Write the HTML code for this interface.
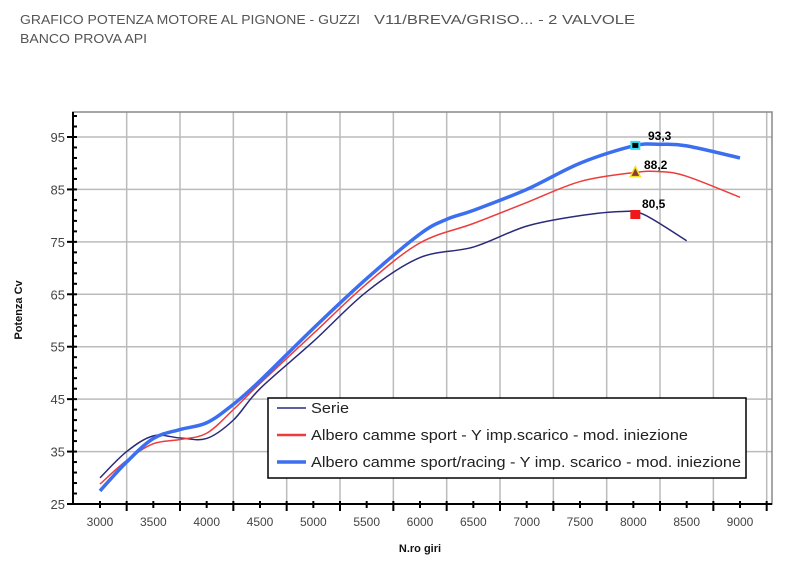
<!DOCTYPE html>
<html><head><meta charset="utf-8"><style>
body{margin:0;background:#fff;width:800px;height:566px;overflow:hidden;font-family:"Liberation Sans",sans-serif}
</style></head><body>
<svg id="s" width="800" height="566" xmlns="http://www.w3.org/2000/svg" font-family="Liberation Sans, sans-serif">
<text x="20" y="24" font-size="13" fill="#555" textLength="340" lengthAdjust="spacingAndGlyphs">GRAFICO POTENZA MOTORE AL PIGNONE - GUZZI</text>
<text x="374" y="24" font-size="13" fill="#555" textLength="261" lengthAdjust="spacingAndGlyphs">V11/BREVA/GRISO... - 2 VALVOLE</text>
<text x="20" y="43" font-size="13" fill="#555" textLength="127" lengthAdjust="spacingAndGlyphs">BANCO PROVA API</text>
<g id="g"></g>
<text transform="translate(22,310) rotate(-90)" font-size="11" font-weight="bold" text-anchor="middle" fill="#111">Potenza Cv</text>
<text x="420" y="552" font-size="11" font-weight="bold" text-anchor="middle" fill="#111">N.ro giri</text>
</svg>
<script>
var X=r=>100+(r-3000)*0.10667, Y=v=>504-(v-25)*5.243;
var h='';
var L=73,R=772,T=112,B=504;
for(var r=3250;r<9300;r+=500)h+=`<line x1="${X(r)}" y1="${T}" x2="${X(r)}" y2="${B}" stroke="#bbb" stroke-width="1.5"/>`;
for(var v=35;v<=95;v+=10)h+=`<line x1="${L}" y1="${Y(v)}" x2="${R}" y2="${Y(v)}" stroke="#bbb" stroke-width="1.5"/>`;
h+=`<rect x="${L}" y="${T}" width="${R-L}" height="${B-T}" fill="none" stroke="#888" stroke-width="1.5"/>`;
h+=`<line x1="${L}" y1="${T}" x2="${L}" y2="${B}" stroke="#000" stroke-width="2"/><line x1="${L}" y1="${B}" x2="${R}" y2="${B}" stroke="#000" stroke-width="2"/>`;
for(var v=25;v<=99;v+=2){var big=(v-25)%10==0;h+=`<line x1="${big?L-6:L}" y1="${Y(v)}" x2="${L+4}" y2="${Y(v)}" stroke="#000" stroke-width="2"/>`;}
for(var v=25;v<=95;v+=10)h+=`<text x="${L-8}" y="${Y(v)+5}" font-size="13" fill="#444" text-anchor="end">${v}</text>`;
for(var r=3000;r<=9250;r+=250){var big=(r-3250)%500==0;h+=`<line x1="${X(r)}" y1="${B-3}" x2="${X(r)}" y2="${B+(big?7:4)}" stroke="#000" stroke-width="2"/>`;}
for(var r=3000;r<=9000;r+=500)h+=`<text x="${X(r)}" y="${B+22}" font-size="12" fill="#444" text-anchor="middle">${r}</text>`;
function path(p){var q=p.map(a=>[X(a[0]),Y(a[1])]);var d='M'+q[0];for(var i=0;i<q.length-1;i++){var p0=q[i-1]||q[i],p1=q[i],p2=q[i+1],p3=q[i+2]||p2;d+=` C${p1[0]+(p2[0]-p0[0])/6},${p1[1]+(p2[1]-p0[1])/6} ${p2[0]-(p3[0]-p1[0])/6},${p2[1]-(p3[1]-p1[1])/6} ${p2[0]},${p2[1]}`;}return d;}
var nav=[[3000,30],[3250,35],[3500,38],[3750,37.6],[4000,37.5],[4250,41],[4500,47],[5000,56],[5500,65.5],[6000,72],[6500,74],[7000,78],[7500,80],[7900,80.8],[8100,80.2],[8500,75.2]];
var red=[[3000,28.8],[3250,33.3],[3500,36.5],[3750,37.3],[4000,38.5],[4250,43],[4500,48],[5000,57.5],[5500,67],[6000,74.8],[6500,78.5],[7000,82.5],[7500,86.5],[8000,88.2],[8250,88.4],[8500,87.5],[9000,83.5]];
var blu=[[3000,27.5],[3250,33],[3500,37.5],[3750,39.2],[4000,40.5],[4250,44],[4500,48.5],[5000,58.5],[5500,68],[6000,76.5],[6250,79.3],[6500,81],[7000,85],[7500,90],[8000,93.3],[8250,93.6],[8500,93.3],[9000,91]];
h+=`<path d="${path(nav)}" fill="none" stroke="#2a2a7a" stroke-width="1.5"/>`;
h+=`<path d="${path(red)}" fill="none" stroke="#ee3b3b" stroke-width="1.5"/>`;
h+=`<path d="${path(blu)}" fill="none" stroke="#3b6ff0" stroke-width="3.5"/>`;
var x8=X(8000)+2;
h+=`<rect x="${x8-5}" y="${Y(93.3)-5}" width="10" height="9" fill="#2ee0f0"/><rect x="${x8-3}" y="${Y(93.3)-3}" width="6" height="5" fill="#000"/>`;
h+=`<polygon points="${x8},${Y(88.2)-6} ${x8-5},${Y(88.2)+4} ${x8+5},${Y(88.2)+4}" fill="#8a3a3a" stroke="#f0e020" stroke-width="1.5"/>`;
h+=`<rect x="${x8-5}" y="${Y(80.5)-3}" width="10" height="9" fill="#f01818"/>`;
h+=`<text x="648" y="140" font-size="12" font-weight="bold">93,3</text><text x="644" y="169" font-size="12" font-weight="bold">88,2</text><text x="642" y="208" font-size="12" font-weight="bold">80,5</text>`;
h+=`<rect x="268" y="398" width="478" height="80" fill="#fff" stroke="#000" stroke-width="1.5"/>`;
var lg=[["#2a2a7a",1.5,"Serie",413,38],["#ee3b3b",2.5,"Albero camme sport - Y imp.scarico - mod. iniezione",440,377],["#3b6ff0",3.5,"Albero camme sport/racing - Y imp. scarico - mod. iniezione",467,430]];
lg.forEach(a=>{h+=`<line x1="277" y1="${a[3]-5}" x2="306" y2="${a[3]-5}" stroke="${a[0]}" stroke-width="${a[1]}"/><text x="311" y="${a[3]}" font-size="14.5" fill="#222" textLength="${a[4]}" lengthAdjust="spacingAndGlyphs">${a[2]}</text>`;});
document.getElementById('g').innerHTML=h;
</script>
</body></html>
